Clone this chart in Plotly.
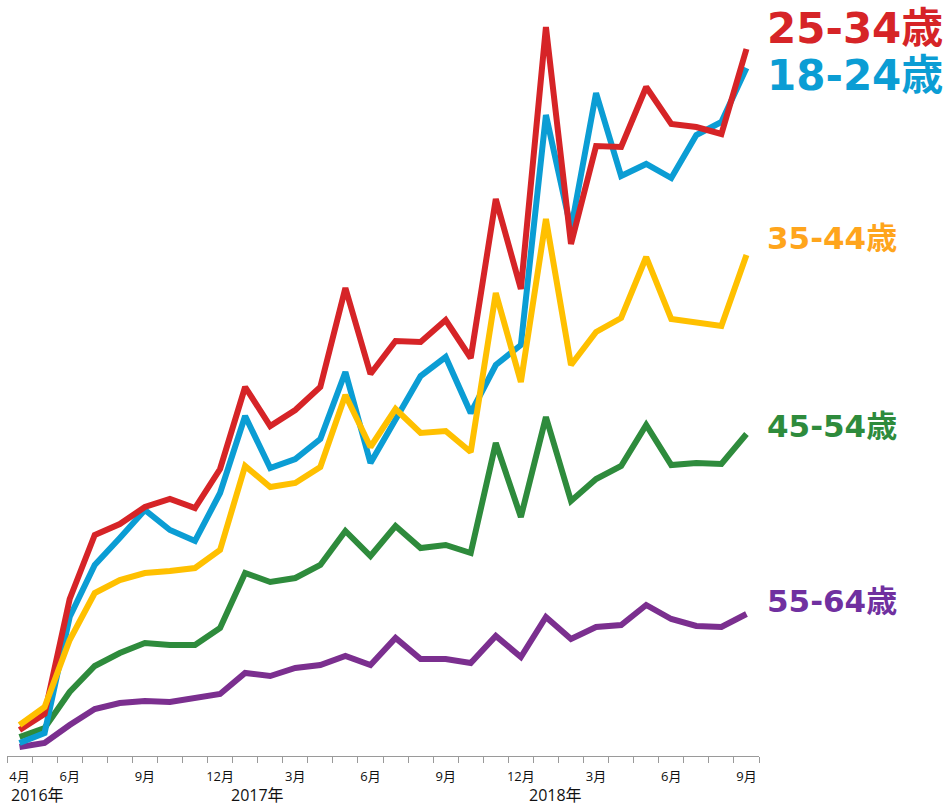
import plotly.graph_objects as go

months = ["2016-04","2016-05","2016-06","2016-07","2016-08","2016-09","2016-10","2016-11","2016-12",
          "2017-01","2017-02","2017-03","2017-04","2017-05","2017-06","2017-07","2017-08","2017-09","2017-10","2017-11","2017-12",
          "2018-01","2018-02","2018-03","2018-04","2018-05","2018-06","2018-07","2018-08","2018-09"]

age_18_24 = [13,23,139,191,218,246,226,215,263,340,288,297,317,384,293,338,380,399,343,391,411,641,527,663,580,592,578,621,634,688]
age_25_34 = [26,42,157,221,232,249,257,248,287,369,330,346,369,468,382,415,414,436,398,557,467,729,512,610,609,669,632,629,622,707]
age_35_44 = [31,49,116,163,176,183,185,188,206,290,269,273,289,361,309,347,323,325,304,463,374,537,391,424,438,499,437,433,430,501]
age_45_54 = [19,28,64,90,103,113,111,111,128,183,174,178,191,225,200,230,208,211,203,313,239,339,255,277,290,331,291,293,292,322]
age_55_64 = [9,13,31,47,53,55,54,58,62,83,80,88,91,100,91,118,97,97,93,120,99,139,117,129,131,151,137,130,129,142]

tick_months = ["2016-04","2016-06","2016-09","2016-12","2017-03","2017-06","2017-09","2017-12","2018-03","2018-06","2018-09"]
tick_labels = ["4月","6月","9月","12月","3月","6月","9月","12月","3月","6月","9月"]
years = ["2016年","2017年","2018年"]

series = [
    ("55-64歳", age_55_64, "#7b2f8f", "#7030a0"),
    ("45-54歳", age_45_54, "#2e8b3c", "#2e8b3c"),
    ("18-24歳", age_18_24, "#0b9dd4", "#0b9dd4"),
    ("25-34歳", age_25_34, "#d62427", "#d62427"),
    ("35-44歳", age_35_44, "#ffc000", "#ffa51c"),
]

x = list(range(len(months)))
fig = go.Figure()
for name, vals, col, _ in series:
    fig.add_trace(go.Scatter(x=x, y=vals, mode="lines", name=name,
                             line=dict(color=col, width=6), showlegend=False, hoverinfo="skip"))

label_font = "DejaVu Sans, Noto Sans CJK JP"
label_specs = {
    "25-34歳": (728, 42),
    "18-24歳": (681, 42),
    "35-44歳": (518, 31),
    "45-54歳": (330, 31),
    "55-64歳": (155, 31),
}
for name, vals, col, lcol in series:
    yv, size = label_specs[name]
    fig.add_annotation(x=1.008, xref="paper", y=yv, yref="y", text=name, showarrow=False,
                       xanchor="left", yanchor="middle",
                       font=dict(family=label_font, size=size, color=lcol, weight="bold"))

year_pos = [-0.42, 8.37, 20.24]
for yr, xp in zip(years, year_pos):
    fig.add_annotation(x=xp, xref="x", y=-0.0525, yref="paper", text=yr, showarrow=False,
                       xanchor="left", yanchor="middle",
                       font=dict(family="Open Sans, Noto Sans CJK JP", size=16, color="#111"))

fig.update_xaxes(
    range=[-0.5, 29.5],
    tickmode="array",
    tickvals=[months.index(m) for m in tick_months],
    ticktext=tick_labels,
    ticks="",
    ticklabelstandoff=8,
    showgrid=False, zeroline=False,
    showline=True, linecolor="#9a9a9a", linewidth=1,
    tickfont=dict(family="Open Sans, Noto Sans CJK JP", size=13, color="#111"),
    minor=dict(tickmode="array", tickvals=[i - 0.5 for i in range(len(months) + 1)],
               ticks="outside", ticklen=6, tickcolor="#9a9a9a", showgrid=False),
)
fig.update_yaxes(range=[0, 746], visible=False, showgrid=False, zeroline=False)

fig.update_layout(
    width=944, height=808,
    margin=dict(l=7, r=185, t=10, b=52),
    paper_bgcolor="white", plot_bgcolor="white",
)

fig.write_html("out.html")
